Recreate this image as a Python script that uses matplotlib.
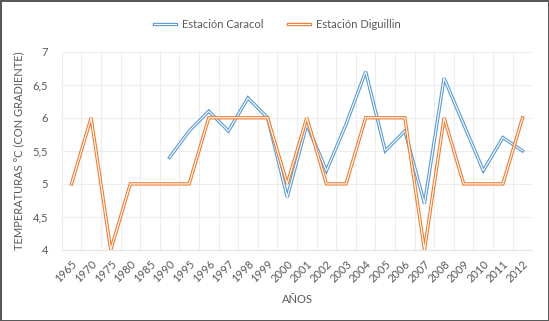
import matplotlib.pyplot as plt
import matplotlib.patheffects as pe
import numpy as np

plt.rcParams['font.family'] = ['Lato', 'DejaVu Sans']

anios = ['1965', '1970', '1975', '1980', '1985', '1990', '1995', '1996', '1997', '1998',
         '1999', '2000', '2001', '2002', '2003', '2004', '2005', '2006', '2007', '2008',
         '2009', '2010', '2011', '2012']

# Caracol sin datos antes de 1990
caracol = [None, None, None, None, None, 5.4, 5.8, 6.1, 5.8, 6.3,
           6.0, 4.8, 5.9, 5.2, 5.9, 6.7, 5.5, 5.8, 4.7, 6.6,
           5.9, 5.2, 5.7, 5.5]
diguillin = [5, 6, 4, 5, 5, 5, 5, 6, 6, 6,
             6, 5, 6, 5, 5, 6, 6, 6, 4, 6,
             5, 5, 5, 6]

gris = '#595959'
azul = '#5B9BD5'
naranja = '#ED7D31'

x = np.arange(len(anios))
car = np.array([np.nan if v is None else v for v in caracol], dtype=float)

fig = plt.figure(figsize=(5.49, 3.21), dpi=100)
fig.patch.set_edgecolor(gris)
fig.patch.set_linewidth(2)
ax = fig.add_axes([0.1124, 0.2212, 0.8572, 0.6178])

for serie, color, nombre in [(car, azul, 'Estación Caracol'), (diguillin, naranja, 'Estación Diguillin')]:
    ax.plot(x, serie, color='white', lw=0.8, label=nombre, solid_joinstyle='miter',
            path_effects=[pe.withStroke(linewidth=2.4, foreground=color)])

ax.set_xlim(-0.5, len(anios) - 0.5)
ax.set_ylim(4, 7)
ax.set_yticks(np.arange(4, 7.01, 0.5))
ax.set_yticklabels([('%g' % v).replace('.', ',') for v in np.arange(4, 7.01, 0.5)])
ax.set_xticks(x)
ax.set_xticklabels(anios, rotation=45, ha='right', rotation_mode='anchor')
ax.set_xticks(np.arange(-0.5, len(anios)), minor=True)

ax.grid(axis='y', color='#EDEDED', lw=0.8)
ax.grid(axis='x', which='minor', color='#EDEDED', lw=0.8)
ax.set_axisbelow(True)
ax.tick_params(which='both', length=0, colors=gris, labelsize=8)
ax.tick_params(axis='x', pad=6)
ax.tick_params(axis='y', pad=10)
for s in ['top', 'right', 'left']:
    ax.spines[s].set_visible(False)
ax.spines['bottom'].set_color('#E4E4E4')
ax.spines['bottom'].set_linewidth(0.8)

ax.set_xlabel('AÑOS', color=gris, fontsize=8, labelpad=7)
ax.set_ylabel('TEMPERATURAS °C (CON GRADIENTE)', color=gris, fontsize=8, labelpad=6)

fig.legend(loc='center', bbox_to_anchor=(0.505, 0.925), ncol=2, frameon=False,
           fontsize=8, labelcolor=gris, handlelength=2.0, columnspacing=2.2, handletextpad=0.5)

fig.savefig('out.png', dpi=100, edgecolor=fig.get_edgecolor())
